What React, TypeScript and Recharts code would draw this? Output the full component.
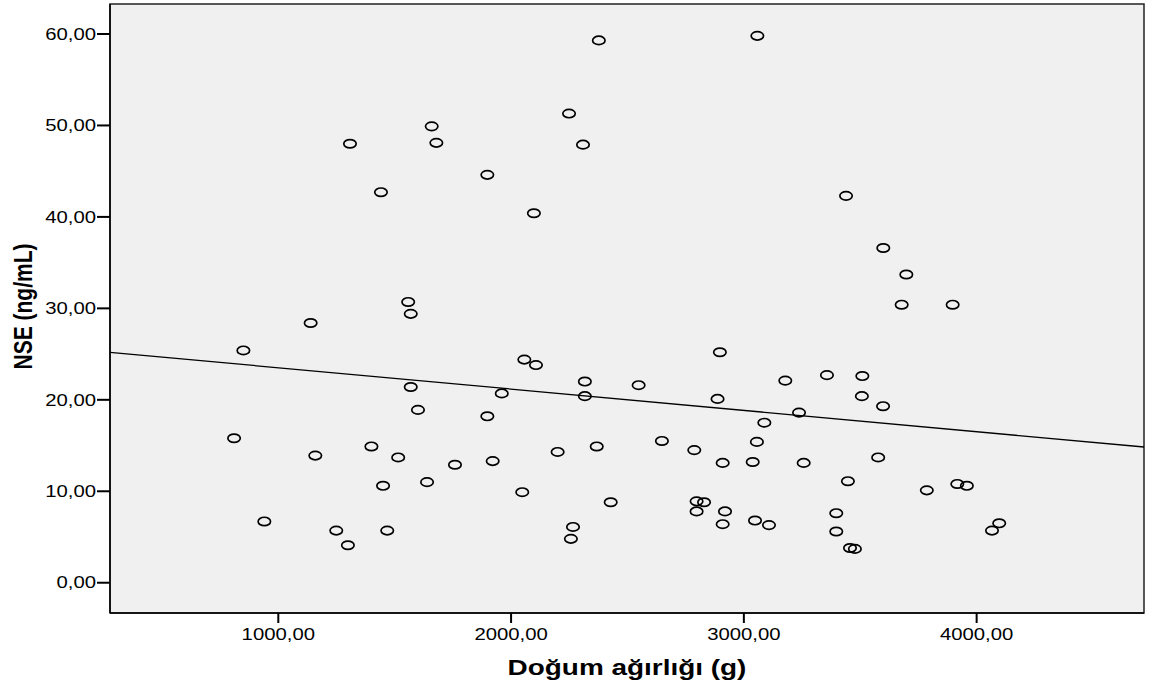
import {
  ScatterChart,
  Scatter,
  XAxis,
  YAxis,
  CartesianGrid,
  ReferenceLine,
  ReferenceArea,
  Label,
} from "recharts";

// Doğum ağırlığı (g) vs NSE (ng/mL)
const birthWeight = [
  810, 850, 940, 1139, 1159, 1249, 1299, 1308, 1400, 1441, 1450, 1468, 1515,
  1558, 1569, 1569, 1600, 1639, 1659, 1679, 1759, 1898, 1898, 1921, 1960, 2048,
  2057, 2098, 2107, 2200, 2249, 2257, 2266, 2309, 2317, 2317, 2368, 2377, 2428,
  2548, 2648, 2787, 2797, 2797, 2829, 2887, 2897, 2909, 2909, 2919, 3038, 3048,
  3056, 3058, 3088, 3108, 3178, 3237, 3257, 3357, 3397, 3397, 3439, 3447, 3456,
  3477, 3507, 3509, 3577, 3598, 3599, 3678, 3698, 3786, 3897, 3917, 3958, 4066,
  4097,
];

const nse = [
  15.8, 25.4, 6.7, 28.4, 13.9, 5.7, 4.1, 48.0, 14.9, 42.7, 10.6, 5.7, 13.7,
  30.7, 29.4, 21.4, 18.9, 11.0, 49.9, 48.1, 12.9, 44.6, 18.2, 13.3, 20.7, 9.9,
  24.4, 40.4, 23.8, 14.3, 51.3, 4.8, 6.1, 47.9, 22.0, 20.4, 14.9, 59.3, 8.8,
  21.6, 15.5, 14.5, 8.9, 7.8, 8.8, 20.1, 25.2, 13.1, 6.4, 7.8, 13.2, 6.8,
  15.4, 59.8, 17.5, 6.3, 22.1, 18.6, 13.1, 22.7, 7.6, 5.6, 42.3, 11.1, 3.8,
  3.7, 20.4, 22.6, 13.7, 19.3, 36.6, 30.4, 33.7, 10.1, 30.4, 10.8, 10.6, 5.7,
  6.5,
];

// linear fit line endpoints (at the edges of the plot)
const fitLine = [
  { x: 277, y: 25.19 },
  { x: 4719, y: 14.84 },
];

const xTicks = [1000, 2000, 3000, 4000];
const yTicks = [0, 10, 20, 30, 40, 50, 60];
const xDomain = [277, 4719];
const yDomain = [-3.31, 63.28];

const data = birthWeight.map((x, i) => ({ x, y: nse[i] }));

const FONT = "'Liberation Sans', Arial, sans-serif";
const SX = 1.27; // the original is stretched horizontally

const fmt = (v: number) => v.toFixed(2).replace(".", ",");

function YTick({ x, y, payload }: any) {
  return (
    <text
      transform={`translate(${x},${y}) scale(${SX},1)`}
      textAnchor="end"
      dy="0.36em"
      fontSize={16}
      fontFamily={FONT}
      fill="#000"
    >
      {fmt(payload.value)}
    </text>
  );
}

function XTick({ x, y, payload }: any) {
  return (
    <text
      transform={`translate(${x},${y}) scale(${SX},1)`}
      textAnchor="middle"
      dy={14.5}
      fontSize={16}
      fontFamily={FONT}
      fill="#000"
    >
      {fmt(payload.value)}
    </text>
  );
}

function XTitle({ viewBox }: any) {
  const cx = viewBox.x + viewBox.width / 2;
  return (
    <text
      transform={`translate(${cx},${viewBox.y + 62}) scale(${SX},1)`}
      textAnchor="middle"
      fontSize={22}
      fontWeight="bold"
      fontFamily={FONT}
      fill="#000"
    >
      Doğum ağırlığı (g)
    </text>
  );
}

function YTitle({ viewBox }: any) {
  const cy = viewBox.y + viewBox.height / 2 - 2;
  return (
    <text
      transform={`translate(31.5,${cy}) scale(${SX},1) rotate(-90)`}
      textAnchor="middle"
      fontSize={21}
      fontWeight="bold"
      fontFamily={FONT}
      fill="#000"
    >
      NSE (ng/mL)
    </text>
  );
}

const OpenDot = (props: any) => (
  <ellipse
    cx={props.cx}
    cy={props.cy}
    rx={6.2}
    ry={4.2}
    fill="none"
    stroke="#000"
    strokeWidth={1.7}
  />
);

export default function App() {
  return (
    <div style={{ position: "absolute", left: 0, top: 0, background: "#fff" }}>
      <ScatterChart
        width={1152}
        height={685}
        margin={{ top: 4, right: 8, bottom: 0, left: 0 }}
      >
        <CartesianGrid fill="#f0f0f0" stroke="none" />
        <XAxis
          type="number"
          dataKey="x"
          domain={xDomain}
          ticks={xTicks}
          allowDataOverflow
          height={72}
          tickSize={10}
          tickMargin={2}
          tick={<XTick />}
          axisLine={{ stroke: "#000", strokeWidth: 1.5 }}
          tickLine={{ stroke: "#000", strokeWidth: 2 }}
        >
          <Label content={<XTitle />} />
        </XAxis>
        <YAxis
          type="number"
          dataKey="y"
          domain={yDomain}
          ticks={yTicks}
          allowDataOverflow
          width={110}
          tickSize={13}
          tickMargin={1}
          tick={<YTick />}
          axisLine={{ stroke: "#000", strokeWidth: 1.5 }}
          tickLine={{ stroke: "#000", strokeWidth: 2 }}
        >
          <Label content={<YTitle />} />
        </YAxis>
        <ReferenceArea
          x1={xDomain[0]}
          x2={xDomain[1]}
          y1={yDomain[0]}
          y2={yDomain[1]}
          fill="none"
          stroke="#222"
          strokeWidth={1.5}
          ifOverflow="visible"
        />
        <ReferenceLine
          segment={fitLine}
          stroke="#000"
          strokeWidth={1.3}
          ifOverflow="visible"
        />
        <Scatter data={data} shape={OpenDot} isAnimationActive={false} />
      </ScatterChart>
    </div>
  );
}
